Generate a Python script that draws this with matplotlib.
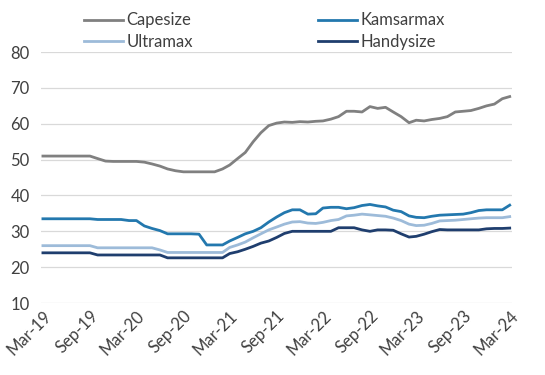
import matplotlib
matplotlib.use("Agg")
import matplotlib.pyplot as plt
import matplotlib.dates as mdates
import pandas as pd
import numpy as np

dates = pd.date_range("2019-03-01", periods=61, freq="MS")

capesize = [51.0, 51.0, 51.0, 51.0, 51.0, 51.0, 51.0, 50.3, 49.6, 49.5,
            49.5, 49.5, 49.5, 49.3, 48.8, 48.2, 47.4, 46.9, 46.6, 46.6,
            46.6, 46.6, 46.6, 47.4, 48.5, 50.3, 52.0, 55.0, 57.5, 59.5,
            60.2, 60.5, 60.4, 60.6, 60.5, 60.7, 60.8, 61.3, 62.0, 63.5,
            63.5, 63.3, 64.8, 64.3, 64.6, 63.3, 62.0, 60.3, 61.0, 60.8,
            61.2, 61.5, 62.0, 63.3, 63.5, 63.7, 64.3, 65.0, 65.5, 67.0,
            67.6]
kamsarmax = [33.5, 33.5, 33.5, 33.5, 33.5, 33.5, 33.5, 33.3, 33.3, 33.3,
             33.3, 33.0, 33.0, 31.5, 30.8, 30.2, 29.3, 29.3, 29.3, 29.3,
             29.2, 26.2, 26.2, 26.2, 27.3, 28.3, 29.3, 30.0, 31.0, 32.6,
             34.0, 35.2, 36.0, 36.0, 34.8, 34.9, 36.5, 36.7, 36.7, 36.3,
             36.6, 37.2, 37.5, 37.1, 36.8, 35.9, 35.5, 34.3, 33.9, 33.8,
             34.2, 34.5, 34.6, 34.7, 34.8, 35.2, 35.8, 36.0, 36.0, 36.0,
             37.3]
ultramax = [26.0, 26.0, 26.0, 26.0, 26.0, 26.0, 26.0, 25.4, 25.4, 25.4,
            25.4, 25.4, 25.4, 25.4, 25.4, 24.8, 24.1, 24.1, 24.1, 24.1,
            24.1, 24.1, 24.1, 24.1, 25.5, 26.2, 27.0, 28.2, 29.3, 30.4,
            31.2, 32.0, 32.6, 32.7, 32.3, 32.2, 32.5, 33.0, 33.3, 34.3,
            34.5, 34.8, 34.6, 34.4, 34.2, 33.7, 33.0, 32.0, 31.6, 31.7,
            32.2, 32.9, 33.0, 33.1, 33.3, 33.5, 33.7, 33.8, 33.8, 33.8,
            34.1]
handysize = [24.0, 24.0, 24.0, 24.0, 24.0, 24.0, 24.0, 23.4, 23.4, 23.4,
             23.4, 23.4, 23.4, 23.4, 23.4, 23.4, 22.6, 22.6, 22.6, 22.6,
             22.6, 22.6, 22.6, 22.6, 23.8, 24.3, 25.0, 25.8, 26.7, 27.3,
             28.3, 29.4, 30.0, 30.0, 30.0, 30.0, 30.0, 30.0, 31.0, 31.0,
             31.0, 30.4, 30.0, 30.4, 30.4, 30.3, 29.3, 28.4, 28.6, 29.2,
             29.9, 30.5, 30.4, 30.4, 30.4, 30.4, 30.4, 30.7, 30.8, 30.8,
             30.9]

series_names = ["Capesize", "Kamsarmax", "Ultramax", "Handysize"]
colors = ["#808080", "#2378AE", "#9DBBD9", "#1F3E6E"]
yticks = [10, 20, 30, 40, 50, 60, 70, 80]

plt.rcParams['font.family'] = ['Lato', 'DejaVu Sans']

fig = plt.figure(figsize=(5.45, 3.75), dpi=100)
ax = fig.add_axes([0.075, 0.192, 0.864, 0.669])

lines = {}
for name, vals, c in zip(series_names, [capesize, kamsarmax, ultramax, handysize], colors):
    lines[name], = ax.plot(dates, vals, color=c, lw=2.0, label=name)

ax.set_ylim(10, 80)
ax.set_yticks(yticks)
ax.set_xlim(dates[0] - pd.Timedelta(days=8), dates[-1] + pd.Timedelta(days=8))
ax.xaxis.set_major_locator(mdates.MonthLocator(bymonth=[3, 9]))
ax.xaxis.set_major_formatter(mdates.DateFormatter("%b-%y"))
ax.grid(axis='y', color='#d9d9d9', lw=0.9)
ax.set_axisbelow(True)
for s in ax.spines.values():
    s.set_visible(False)
ax.tick_params(axis='both', length=0, labelsize=12, colors='#404040')
ax.tick_params(axis='y', pad=8)
for lab in ax.get_xticklabels():
    lab.set_rotation(45)
    lab.set_ha('right')
    lab.set_rotation_mode('anchor')

order = ["Capesize", "Ultramax", "Kamsarmax", "Handysize"]
leg = fig.legend([lines[n] for n in order], order, ncol=2, loc='upper left',
                 bbox_to_anchor=(0.127, 1.007), frameon=False,
                 fontsize=12, handlelength=2.3, handletextpad=0.25, columnspacing=7.5,
                 labelspacing=0.35, labelcolor='#404040')

fig.savefig("out.png", dpi=100)
